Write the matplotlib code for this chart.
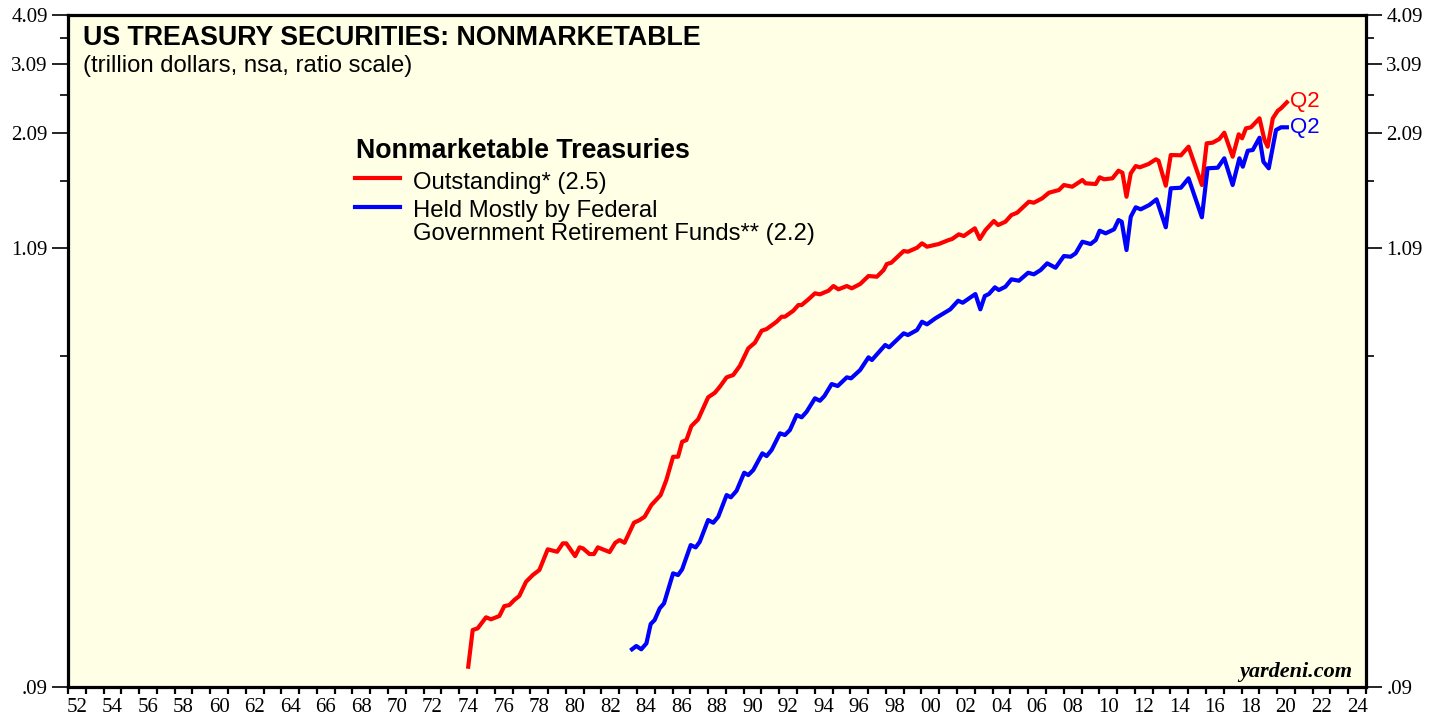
import matplotlib
matplotlib.use('Agg')
import matplotlib.pyplot as plt
import matplotlib.ticker as mticker

# ── DATA (trillion dollars) ─────────────────────────────────────────────────
red_year = [1974.51, 1974.76, 1975.04, 1975.51, 1975.79, 1976.26, 1976.54, 1976.82,
            1977.10, 1977.38, 1977.76, 1978.14, 1978.51, 1978.98, 1979.51, 1979.83,
            1980.02, 1980.52, 1980.77, 1980.96, 1981.33, 1981.58, 1981.80, 1982.46,
            1982.78, 1983.02, 1983.30, 1983.83, 1984.15, 1984.43, 1984.81, 1985.33,
            1985.65, 1986.03, 1986.31, 1986.54, 1986.78, 1987.06, 1987.44, 1988.00,
            1988.38, 1988.66, 1989.04, 1989.41, 1989.78, 1990.26, 1990.63, 1991.01,
            1991.29, 1991.85, 1992.14, 1992.32, 1992.79, 1993.08, 1993.26, 1993.64,
            1994.01, 1994.29, 1994.77, 1995.05, 1995.33, 1995.80, 1996.08, 1996.55,
            1997.02, 1997.49, 1997.87, 1998.05, 1998.30, 1999.00, 1999.24, 1999.75,
            2000.03, 2000.31, 2000.97, 2001.53, 2001.72, 2002.10, 2002.38, 2003.00,
            2003.28, 2003.60, 2004.07, 2004.31, 2004.72, 2005.06, 2005.38, 2006.04,
            2006.32, 2006.79, 2007.17, 2007.73, 2008.01, 2008.48, 2009.05, 2009.23,
            2009.80, 2010.02, 2010.27, 2010.74, 2011.08, 2011.30, 2011.53, 2011.77,
            2012.05, 2012.28, 2012.77, 2013.18, 2013.33, 2013.74, 2014.02, 2014.59,
            2015.02, 2015.77, 2016.04, 2016.37, 2016.75, 2017.03, 2017.50, 2017.84,
            2018.03, 2018.25, 2018.53, 2019.01, 2019.29, 2019.47, 2019.76, 2020.04,
            2020.22, 2020.55]
red_val = [0.101, 0.1244, 0.1256, 0.1337, 0.1322, 0.1347, 0.1425, 0.1433,
           0.1475, 0.1509, 0.1636, 0.1700, 0.1749, 0.1967, 0.1940, 0.2035,
           0.2035, 0.1893, 0.1989, 0.1978, 0.1915, 0.1915, 0.1989, 0.1937,
           0.2042, 0.2073, 0.2042, 0.2288, 0.2323, 0.2367, 0.2530, 0.2677,
           0.2915, 0.3328, 0.3328, 0.3624, 0.3659, 0.3962, 0.4116, 0.4663,
           0.4787, 0.4953, 0.5224, 0.5293, 0.5571, 0.6160, 0.6359, 0.6807,
           0.6873, 0.7164, 0.7371, 0.7371, 0.7626, 0.7878, 0.7878, 0.8136,
           0.8419, 0.8371, 0.8544, 0.8775, 0.8612, 0.8775, 0.8661, 0.8875,
           0.9288, 0.9251, 0.9609, 0.9943, 1.0016, 1.0705, 1.0663, 1.0907,
           1.1183, 1.0970, 1.1139, 1.1394, 1.1460, 1.1770, 1.1657, 1.2178,
           1.1460, 1.2060, 1.2694, 1.2408, 1.2643, 1.3133, 1.3306, 1.4164,
           1.4084, 1.4440, 1.4907, 1.5137, 1.5573, 1.5424, 1.6021, 1.5725,
           1.5662, 1.6270, 1.6086, 1.6178, 1.6892, 1.6700, 1.4572, 1.6644,
           1.7347, 1.7221, 1.7546, 1.8021, 1.7879, 1.5512, 1.8466, 1.8435,
           1.9359, 1.5573, 1.9736, 1.9803, 2.0223, 2.0960, 1.8290, 2.0770,
           2.0304, 2.1491, 2.1614, 2.2747, 2.0108, 1.9359, 2.2747, 2.3749,
           2.4076, 2.4912]

blue_year = [1983.72, 1983.96, 1984.24, 1984.53, 1984.77, 1984.99, 1985.28, 1985.52,
             1986.03, 1986.31, 1986.54, 1987.02, 1987.30, 1987.53, 1988.00, 1988.29,
             1988.57, 1989.04, 1989.28, 1989.60, 1990.03, 1990.26, 1990.54, 1991.05,
             1991.29, 1991.57, 1992.04, 1992.32, 1992.60, 1992.98, 1993.26, 1993.54,
             1994.01, 1994.29, 1994.54, 1994.95, 1995.29, 1995.80, 1996.04, 1996.55,
             1997.02, 1997.21, 1997.96, 1998.18, 1999.00, 1999.24, 1999.75, 2000.03,
             2000.31, 2000.78, 2001.62, 2002.06, 2002.32, 2003.03, 2003.31, 2003.56,
             2003.79, 2004.13, 2004.35, 2004.72, 2005.06, 2005.48, 2006.00, 2006.32,
             2006.70, 2007.07, 2007.54, 2008.01, 2008.39, 2008.67, 2009.05, 2009.51,
             2009.80, 2010.02, 2010.36, 2010.83, 2011.08, 2011.26, 2011.53, 2011.77,
             2012.05, 2012.33, 2012.81, 2013.22, 2013.74, 2014.02, 2014.59, 2015.02,
             2015.77, 2016.09, 2016.66, 2017.03, 2017.50, 2017.88, 2018.07, 2018.35,
             2018.63, 2019.01, 2019.23, 2019.53, 2019.94, 2020.22, 2020.55]
blue_val = [0.1115, 0.1136, 0.1115, 0.1153, 0.1287, 0.1316, 0.1407, 0.1447,
            0.1716, 0.1700, 0.1756, 0.2015, 0.1989, 0.2053, 0.2323, 0.2288,
            0.2367, 0.2677, 0.2643, 0.2743, 0.3039, 0.2999, 0.3086, 0.3393,
            0.3341, 0.3457, 0.3801, 0.3765, 0.3873, 0.4217, 0.4163, 0.4297,
            0.4637, 0.4574, 0.4698, 0.5029, 0.4973, 0.5224, 0.5195, 0.5446,
            0.5853, 0.5764, 0.6277, 0.6195, 0.6708, 0.6643, 0.6835, 0.7164,
            0.7059, 0.7304, 0.7687, 0.8072, 0.7981, 0.8385, 0.7687, 0.8291,
            0.8385, 0.8710, 0.8578, 0.8740, 0.9115, 0.9043, 0.9463, 0.9378,
            0.9609, 0.9982, 0.9736, 1.0405, 1.0364, 1.0566, 1.1286, 1.1139,
            1.1394, 1.2013, 1.1837, 1.2109, 1.2765, 1.2643, 1.0765, 1.3008,
            1.3721, 1.3566, 1.3901, 1.4358, 1.2248, 1.5284, 1.5336, 1.6178,
            1.2963, 1.7123, 1.7181, 1.8124, 1.5573, 1.8124, 1.7280, 1.8922,
            1.8998, 2.0373, 1.7777, 1.7123, 2.1283, 2.1614, 2.1614]

y_ticks = [0.09, 1.09, 2.09, 3.09, 4.09]
y_tick_labels = ['.09', '1.09', '2.09', '3.09', '4.09']
y_minor = [0.59, 1.59, 2.59, 3.59]
year_first, year_last = 1952, 2025

red_label = 'Outstanding* (2.5)'
blue_label = ['Held Mostly by Federal', 'Government Retirement Funds** (2.2)']

# ── FIGURE ────────────────────────────────────────────────────────────────
plt.rcParams['font.family'] = 'Liberation Serif'
W, H = 1439, 719
fig = plt.figure(figsize=(W / 100, H / 100), dpi=100, facecolor='w')
ax = fig.add_axes([68 / W, 1 - 687 / H, 1298 / W, 672 / H])
ax.set_facecolor('#FFFFE6')

ax.plot(red_year, red_val, color='#FF0000', lw=3.0, solid_joinstyle='round')
ax.plot(blue_year, blue_val, color='#0000FF', lw=3.0, solid_joinstyle='round')

ax.set_yscale('log')
ax.set_ylim(0.09, 4.09)
ax.set_xlim(year_first, year_last)

ax.yaxis.set_major_locator(mticker.FixedLocator(y_ticks))
ax.yaxis.set_major_formatter(mticker.FixedFormatter(y_tick_labels))
ax.yaxis.set_minor_locator(mticker.FixedLocator(y_minor))
ax.yaxis.set_minor_formatter(mticker.NullFormatter())

# a tick every year, labels centred inside every other year
yrs = list(range(year_first, year_last + 1))
lab_yrs = [y for y in yrs if y % 2 == 0 and y < year_last]
ax.xaxis.set_major_locator(mticker.FixedLocator(yrs))
ax.xaxis.set_major_formatter(mticker.NullFormatter())
ax.xaxis.set_minor_locator(mticker.FixedLocator([y + 0.5 for y in lab_yrs]))
ax.xaxis.set_minor_formatter(mticker.FixedFormatter([f'{y % 100:02d}' for y in lab_yrs]))

ax.tick_params(axis='x', which='major', length=5, width=1.6, direction='out')
ax.tick_params(axis='x', which='minor', length=0, pad=8, labelsize=15)
ax.tick_params(axis='y', which='major', length=11.5, width=1.2, left=True, right=True,
               labelleft=True, labelright=True, labelsize=15, pad=3)
ax.tick_params(axis='y', which='minor', length=5.8, width=1.2, left=True, right=True)

for s in ax.spines.values():
    s.set_linewidth(2.3)

# ── TEXT ──────────────────────────────────────────────────────────────────
sans = 'Liberation Sans'
fig.text(83 / W, 1 - 45 / H, 'US TREASURY SECURITIES: NONMARKETABLE', family=sans,
         fontsize=19.3, fontweight='bold', va='baseline')
fig.text(83 / W, 1 - 72 / H, '(trillion dollars, nsa, ratio scale)', family=sans,
         fontsize=17.2, va='baseline')

fig.text(356 / W, 1 - 158 / H, 'Nonmarketable Treasuries', family=sans,
         fontsize=19.3, fontweight='bold', va='baseline')
fig.add_artist(plt.Line2D([355 / W, 400 / W], [1 - 178 / H, 1 - 178 / H],
                          color='#FF0000', lw=3.0))
fig.text(413 / W, 1 - 189 / H, red_label, family=sans, fontsize=17.2, va='baseline')
fig.add_artist(plt.Line2D([355 / W, 400 / W], [1 - 207 / H, 1 - 207 / H],
                          color='#0000FF', lw=3.0))
fig.text(413 / W, 1 - 217 / H, blue_label[0], family=sans, fontsize=17.2, va='baseline')
fig.text(413 / W, 1 - 240 / H, blue_label[1], family=sans, fontsize=17.2, va='baseline')

fig.text(1290 / W, 1 - 101 / H, 'Q2', family=sans, fontsize=16, color='#FF0000', va='center')
fig.text(1290 / W, 1 - 127 / H, 'Q2', family=sans, fontsize=16, color='#0000FF', va='center')

fig.text(1352 / W, 1 - 672 / H, 'yardeni.com', family='Liberation Serif', fontsize=16,
         fontweight='bold', style='italic', ha='right', va='center')

fig.savefig('out.png', dpi=100, facecolor='w')
